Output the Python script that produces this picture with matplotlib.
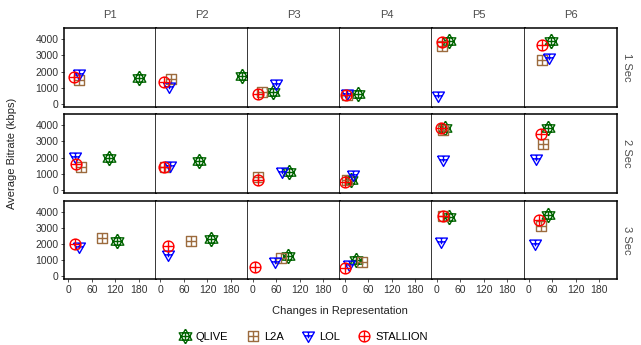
import numpy as np
import matplotlib
matplotlib.use('Agg')
import matplotlib.pyplot as plt
from matplotlib.path import Path
from matplotlib.lines import Line2D

plt.rcParams['font.family'] = ['Liberation Sans', 'DejaVu Sans']

# facets
periods = ['P1', 'P2', 'P3', 'P4', 'P5', 'P6']
segments = ['1 Sec', '2 Sec', '3 Sec']
methods = ['QLIVE', 'L2A', 'LOL', 'STALLION']

# changes in representation, one list per segment row (P1..P6)
qlive_changes = [[181, 208, 52, 34, 32, 57], [103, 98, 93, 15, 22, 50], [124, 130, 90, 28, 32, 50]]
qlive_bitrate = [[1625, 1746, 760, 617, 3906, 3906], [1950, 1782, 1099, 602, 3850, 3813], [2173, 2322, 1285, 994, 3689, 3770]]
l2a_changes = [[26, 26, 23, 5, 13, 33], [32, 12, 14, 5, 15, 35], [85, 79, 73, 43, 15, 32]]
l2a_bitrate = [[1480, 1524, 760, 550, 3597, 2733], [1391, 1450, 807, 600, 3689, 2819], [2360, 2173, 1143, 870, 3700, 3086]]
lol_changes = [[27, 21, 61, 6, 2, 51], [18, 25, 74, 20, 15, 18], [28, 20, 57, 11, 10, 15]]
lol_bitrate = [[1850, 1067, 1260, 617, 512, 2820], [2050, 1472, 1099, 956, 1826, 1925], [1825, 1347, 913, 726, 2136, 2030]]
stallion_changes = [[15, 8, 15, 3, 13, 34], [20, 8, 14, 1, 11, 30], [16, 20, 6, 0, 15, 26]]
stallion_bitrate = [[1647, 1376, 617, 536, 3807, 3640], [1615, 1428, 602, 497, 3813, 3478], [2030, 1906, 559, 521, 3726, 3459]]

changes = {'QLIVE': qlive_changes, 'L2A': l2a_changes, 'LOL': lol_changes, 'STALLION': stallion_changes}
bitrate = {'QLIVE': qlive_bitrate, 'L2A': l2a_bitrate, 'LOL': lol_bitrate, 'STALLION': stallion_bitrate}
colors = {'QLIVE': '#006400', 'L2A': '#9C6B3E', 'LOL': '#0000FF', 'STALLION': '#FF0000'}


# marker shapes: outline + cross, like the ggplot ones
def poly(pts):
    pts = list(pts) + [pts[0]]
    return Path(pts, [Path.MOVETO] + [Path.LINETO] * (len(pts) - 1))


def seg(a, b):
    return Path([a, b], [Path.MOVETO, Path.LINETO])


h = 0.866
star = Path.make_compound_path(
    poly([(0, 1), (-h, -0.5), (h, -0.5)]),
    poly([(0, -1), (-h, 0.5), (h, 0.5)]),
    seg((0, -0.5), (0, 0.5)), seg((-0.45, 0), (0.45, 0)))
square = Path.make_compound_path(
    poly([(-1, -1), (1, -1), (1, 1), (-1, 1)]),
    seg((0, -1), (0, 1)), seg((-1, 0), (1, 0)))
tri = Path.make_compound_path(
    poly([(-1, 0.75), (1, 0.75), (0, -1)]),
    seg((0, 0.75), (0, -0.3)), seg((-0.62, 0.1), (0.62, 0.1)))
circ = Path.make_compound_path(
    Path.unit_circle(), seg((0, -1), (0, 1)), seg((-1, 0), (1, 0)))

markers = {'QLIVE': star, 'L2A': square, 'LOL': tri, 'STALLION': circ}
sizes = {'QLIVE': 10.5, 'L2A': 7.5, 'LOL': 8.5, 'STALLION': 7.8}

W, H = 641, 345
fig = plt.figure(figsize=(W / 100, H / 100), dpi=100)

x0, x1 = 64, 616.7
pw = (x1 - x0) / 6
tops = [28.3, 114.3, 200.7]
ph = 78.7
grey = '#4D4D4D'

for r, segname in enumerate(segments):
    for c, per in enumerate(periods):
        ax = fig.add_axes([(x0 + c * pw) / W, 1 - (tops[r] + ph) / H, pw / W, ph / H])
        for m in methods:
            ax.plot(changes[m][r][c], bitrate[m][r][c], linestyle='none',
                    marker=markers[m], markersize=sizes[m], markerfacecolor='none',
                    markeredgecolor=colors[m], markeredgewidth=1.0)
        ax.set_xlim(-11, 224)
        ax.set_ylim(-185, 4673)
        ax.set_xticks([0, 60, 120, 180])
        ax.set_yticks([0, 1000, 2000, 3000, 4000])
        for s in ax.spines.values():
            s.set_linewidth(1.1)
            s.set_color('black')
        if c > 0:
            ax.spines['left'].set_visible(False)
        ax.tick_params(length=2.5, width=0.6, color='#333333', labelsize=7.5,
                       labelcolor='#333333', pad=1.5)
        if c != 0:
            ax.tick_params(axis='y', left=False, labelleft=False)
        if r != 2:
            ax.tick_params(axis='x', bottom=False, labelbottom=False)
        if r == 0:
            ax.text(0.5, 1.0 + 13.5 / ph, per, transform=ax.transAxes, ha='center',
                    va='center', fontsize=8, color=grey)
        if c == 5:
            ax.text(1.0 + 10.5 / pw, 0.5, segname, transform=ax.transAxes, ha='center',
                    va='center', rotation=-90, fontsize=8, color=grey)

fig.text(340 / W, 1 - 311 / H, 'Changes in Representation', ha='center', va='center',
         fontsize=8, color='#222222')
fig.text(12 / W, 1 - 153 / H, 'Average Bitrate (kbps)', ha='center', va='center',
         rotation=90, fontsize=8, color='#222222')

handles = [Line2D([], [], linestyle='none', marker=markers[m], markersize=sizes[m],
                  markerfacecolor='none', markeredgecolor=colors[m], markeredgewidth=1.0)
           for m in methods]
fig.legend(handles, methods, loc='center', bbox_to_anchor=(303 / W, 1 - 336.5 / H),
           ncol=4, frameon=False, fontsize=8, handlelength=1.2, handletextpad=0.4,
           columnspacing=1.6, borderaxespad=0)

fig.savefig('out.png', dpi=100)
